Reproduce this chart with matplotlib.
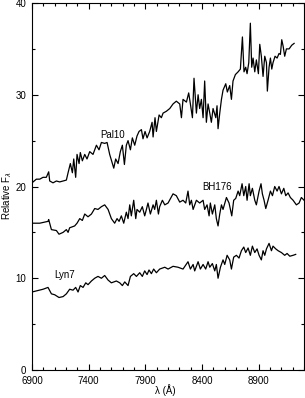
import matplotlib
matplotlib.use("Agg")
import matplotlib.pyplot as plt
from matplotlib.ticker import MultipleLocator

plt.rcParams["font.family"] = ["Liberation Sans", "DejaVu Sans"]

# wavelength (A) / relative flux
pal10_wave = [6900, 6938, 6968, 6997, 7026, 7047, 7056, 7071, 7085, 7115, 7144,
              7174, 7203, 7218, 7238, 7256, 7268, 7285, 7297, 7315, 7326, 7344,
              7365, 7385, 7409, 7438, 7468, 7491, 7512, 7541, 7562, 7585, 7609,
              7621, 7638, 7659, 7679, 7697, 7715, 7732, 7747, 7768, 7785, 7806,
              7826, 7844, 7865, 7879, 7897, 7915, 7938, 7959, 7968, 7985, 7997,
              8021, 8041, 8056, 8085, 8115, 8144, 8173, 8203, 8218, 8232, 8262,
              8282, 8297, 8315, 8329, 8350, 8365, 8379, 8394, 8409, 8423, 8438,
              8453, 8468, 8482, 8497, 8521, 8532, 8541, 8556, 8571, 8585, 8609,
              8623, 8644, 8659, 8673, 8694, 8718, 8738, 8756, 8770, 8785, 8797,
              8812, 8826, 8838, 8850, 8865, 8879, 8897, 8909, 8923, 8938, 8953,
              8968, 8976, 8991, 9003, 9015, 9026, 9044, 9062, 9079, 9091, 9103,
              9115, 9129, 9144, 9168, 9191, 9212]
pal10_flux = [20.4, 20.8, 20.8, 21.0, 21.0, 21.6, 20.6, 20.5, 20.4, 20.6, 20.5,
              20.6, 20.7, 21.5, 22.5, 21.5, 23.0, 21.0, 23.5, 22.5, 23.7, 22.8,
              23.5, 23.0, 23.8, 23.5, 24.5, 24.0, 24.8, 24.7, 24.8, 23.5, 22.5,
              22.0, 23.0, 22.5, 23.8, 24.5, 22.4, 24.5, 25.0, 24.0, 25.3, 24.5,
              25.5, 26.0, 26.2, 25.2, 26.0, 25.3, 26.0, 27.0, 25.4, 27.5, 26.0,
              27.8, 27.5, 28.0, 28.2, 28.5, 29.0, 29.3, 29.0, 27.5, 29.5, 29.2,
              30.2, 29.0, 27.5, 31.8, 28.0, 30.0, 28.5, 29.5, 27.5, 31.5, 27.0,
              29.0, 28.0, 27.0, 28.5, 27.5, 28.8, 26.3, 28.0, 29.5, 30.5, 31.2,
              30.3, 31.0, 29.5, 31.5, 32.2, 32.5, 32.8, 36.3, 32.5, 33.0, 32.3,
              33.5, 37.8, 33.0, 34.0, 32.5, 33.8, 32.3, 35.5, 34.2, 32.0, 34.2,
              33.5, 30.4, 33.0, 34.0, 32.8, 33.5, 34.2, 34.0, 34.5, 34.4, 36.0,
              35.3, 34.2, 35.0, 35.0, 35.4, 35.6]

bh176_wave = [6900, 6968, 7041, 7047, 7071, 7115, 7138, 7174, 7203, 7218, 7232,
              7276, 7297, 7321, 7344, 7365, 7394, 7424, 7453, 7482, 7512, 7541,
              7571, 7600, 7629, 7650, 7668, 7688, 7709, 7732, 7747, 7762, 7776,
              7797, 7815, 7826, 7850, 7873, 7894, 7909, 7923, 7944, 7968, 7982,
              7997, 8015, 8026, 8050, 8071, 8100, 8144, 8173, 8203, 8232, 8256,
              8276, 8291, 8306, 8321, 8350, 8379, 8409, 8423, 8444, 8462, 8473,
              8491, 8512, 8526, 8541, 8556, 8571, 8585, 8615, 8638, 8650, 8662,
              8679, 8697, 8718, 8732, 8753, 8768, 8785, 8797, 8815, 8826, 8844,
              8865, 8879, 8903, 8920, 8932, 8947, 8962, 8982, 9003, 9021, 9041,
              9062, 9079, 9100, 9121, 9138, 9159, 9179, 9203, 9232, 9256, 9276,
              9300]
bh176_flux = [16.0, 16.0, 16.2, 16.4, 15.3, 15.2, 14.8, 15.0, 15.3, 15.0, 15.5,
              15.7, 16.0, 16.5, 16.3, 17.0, 16.7, 17.0, 17.6, 17.5, 17.8, 18.0,
              17.5, 16.5, 16.0, 16.5, 16.2, 16.8, 16.0, 17.2, 16.5, 18.0, 16.8,
              18.5, 16.5, 17.5, 17.2, 17.8, 16.8, 17.5, 18.2, 17.0, 18.0, 17.5,
              18.5, 17.0, 17.8, 18.5, 18.0, 18.2, 19.2, 19.0, 18.3, 18.5, 18.2,
              19.5, 18.0, 18.5, 17.5, 18.5, 18.2, 18.5, 17.5, 18.0, 16.8, 18.2,
              17.0, 18.0, 16.5, 15.7, 17.0, 18.0, 17.5, 18.8, 18.2, 17.5, 16.8,
              18.5, 18.7, 19.5, 19.0, 20.3, 19.0, 20.0, 18.5, 20.3, 19.0, 19.8,
              18.5, 18.0, 19.5, 20.3, 19.2, 18.5, 17.6, 18.5, 19.5, 19.0, 20.0,
              19.5, 20.0, 19.2, 19.8, 19.0, 19.3, 18.8, 18.5, 18.0, 18.2, 18.8,
              18.5]

lyn7_wave = [6900, 6997, 7041, 7071, 7100, 7138, 7174, 7203, 7232, 7262, 7285,
             7306, 7326, 7350, 7374, 7394, 7424, 7453, 7482, 7512, 7541, 7571,
             7600, 7644, 7674, 7697, 7718, 7747, 7768, 7797, 7821, 7850, 7873,
             7894, 7915, 7932, 7953, 7973, 7997, 8026, 8071, 8100, 8144, 8188,
             8232, 8276, 8297, 8321, 8335, 8365, 8385, 8409, 8432, 8453, 8468,
             8491, 8512, 8526, 8541, 8562, 8585, 8600, 8621, 8644, 8659, 8679,
             8703, 8726, 8747, 8768, 8785, 8806, 8826, 8844, 8865, 8885, 8903,
             8923, 8938, 8953, 8968, 8991, 9012, 9026, 9050, 9071, 9100, 9129,
             9150, 9174, 9203, 9226]
lyn7_flux = [8.5, 8.8, 9.0, 8.3, 8.2, 7.9, 8.0, 8.3, 8.8, 8.7, 9.0,
             8.5, 9.2, 9.0, 9.5, 9.3, 9.7, 10.0, 10.2, 10.0, 10.3, 9.8,
             9.5, 9.7, 9.5, 9.2, 9.6, 9.2, 10.2, 10.5, 10.2, 10.6, 10.2,
             10.8, 10.4, 10.9, 10.5, 11.0, 10.6, 11.0, 11.2, 11.0, 11.3, 11.2,
             11.0, 11.8, 11.0, 11.5, 10.8, 11.8, 11.0, 11.5, 11.0, 11.8, 11.2,
             11.6, 10.8, 11.5, 10.0, 11.2, 12.0, 11.5, 12.5, 12.0, 11.0, 12.3,
             12.5, 12.2, 13.0, 13.4, 12.8, 13.3, 12.5, 13.5, 12.8, 13.2, 12.5,
             12.0, 13.0, 12.5, 13.2, 13.8, 13.0, 13.5, 13.2, 13.0, 12.8, 12.5,
             12.7, 12.4, 12.5, 12.6]

labels = ["Pal10", "BH176", "Lyn7"]
label_pos = [(7500, 25.6), (8400, 19.9), (7100, 10.3)]

fig = plt.figure(figsize=(3.05, 3.98), dpi=100)
ax = fig.add_axes([0.105, 0.0704, 0.892, 0.922])

for wave, flux in [(pal10_wave, pal10_flux), (bh176_wave, bh176_flux),
                   (lyn7_wave, lyn7_flux)]:
    ax.plot(wave, flux, color="black", lw=0.9)

for name, (x, y) in zip(labels, label_pos):
    ax.text(x, y, name, fontsize=7, ha="left", va="center")

ax.set_xlim(6900, 9300)
ax.set_ylim(0, 40)
ax.set_xticks([6900, 7400, 7900, 8400, 8900])
ax.set_yticks([0, 10, 20, 30, 40])
ax.xaxis.set_minor_locator(MultipleLocator(100))
ax.yaxis.set_minor_locator(MultipleLocator(5))
ax.tick_params(which="both", direction="in", top=True, right=True,
               labelsize=7, width=0.8)
ax.tick_params(axis="x", which="major", pad=4)
ax.tick_params(axis="y", which="major", pad=4)
ax.tick_params(which="major", length=4)
ax.tick_params(which="minor", length=2)
for sp in ax.spines.values():
    sp.set_linewidth(0.8)

ax.set_xlabel("λ (Å)", fontsize=7, va="center")
ax.xaxis.set_label_coords(0.49, -0.056)
ax.set_ylabel(r"Relative F$_\lambda$", fontsize=7, va="center")
ax.yaxis.set_label_coords(-0.09, 0.475)

fig.savefig("out.png", dpi=100)
